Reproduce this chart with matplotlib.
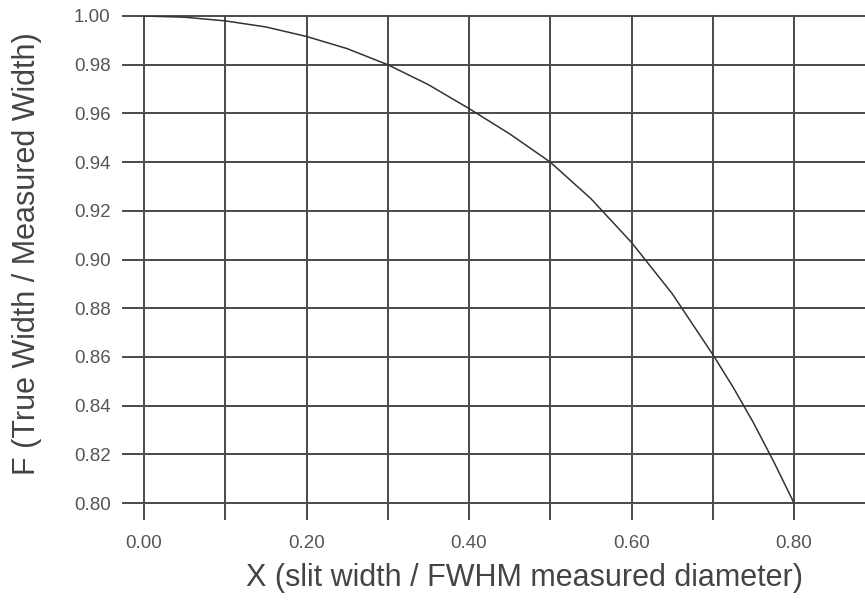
import matplotlib.pyplot as plt

# values
x_vals = [0.0, 0.05, 0.1, 0.15, 0.2, 0.25, 0.3, 0.35, 0.4, 0.45, 0.5,
          0.55, 0.6, 0.65, 0.7, 0.725, 0.75, 0.775, 0.8]
f_vals = [1.000, 0.9995, 0.998, 0.9955, 0.9916, 0.9866, 0.980, 0.9718, 0.962, 0.9516, 0.940,
          0.925, 0.907, 0.886, 0.861, 0.8476, 0.833, 0.817, 0.800]

x_ticks = [0.0, 0.1, 0.2, 0.3, 0.4, 0.5, 0.6, 0.7, 0.8]
x_ticklabels = ['0.00', '', '0.20', '', '0.40', '', '0.60', '', '0.80']
y_ticks = [0.80, 0.82, 0.84, 0.86, 0.88, 0.90, 0.92, 0.94, 0.96, 0.98, 1.00]
y_ticklabels = ['%.2f' % v for v in y_ticks]

plt.rcParams['font.family'] = ['Liberation Sans', 'DejaVu Sans']

fig = plt.figure(figsize=(8.65, 6.03), dpi=100)
ax = fig.add_axes([144 / 865, 100 / 603, 1 - 144 / 865, 487 / 603])

grid_col = '#4a4a4a'
ax.plot(x_vals, f_vals, color='#333333', lw=1.1, zorder=3,
        solid_joinstyle='round')

ax.set_xlim(0, 721 * 0.8 / 650)
ax.set_ylim(0.80, 1.00)
ax.set_xticks(x_ticks)
ax.set_xticklabels(x_ticklabels)
ax.set_yticks(y_ticks)
ax.set_yticklabels(y_ticklabels)

ax.grid(True, color=grid_col, lw=1.4)
for gl in ax.get_xgridlines() + ax.get_ygridlines():
    gl.set_clip_on(False)
for s in ax.spines.values():
    s.set_visible(False)

ax.tick_params(axis='x', length=12, width=1.4, color=grid_col, pad=11,
               labelsize=13.5, labelcolor='#555555')
ax.tick_params(axis='y', length=16, width=1.4, color=grid_col, pad=8,
               labelsize=13.5, labelcolor='#555555')

fig.text(524 / 865, 1 - 578 / 603, 'X (slit width / FWHM measured diameter)',
         ha='center', va='center', fontsize=22, color='#444444')
fig.text(27 / 865, 1 - 254 / 603, 'F (True Width / Measured Width)',
         ha='center', va='center', rotation=90, fontsize=22, color='#444444')

fig.savefig('out.png', dpi=100)
